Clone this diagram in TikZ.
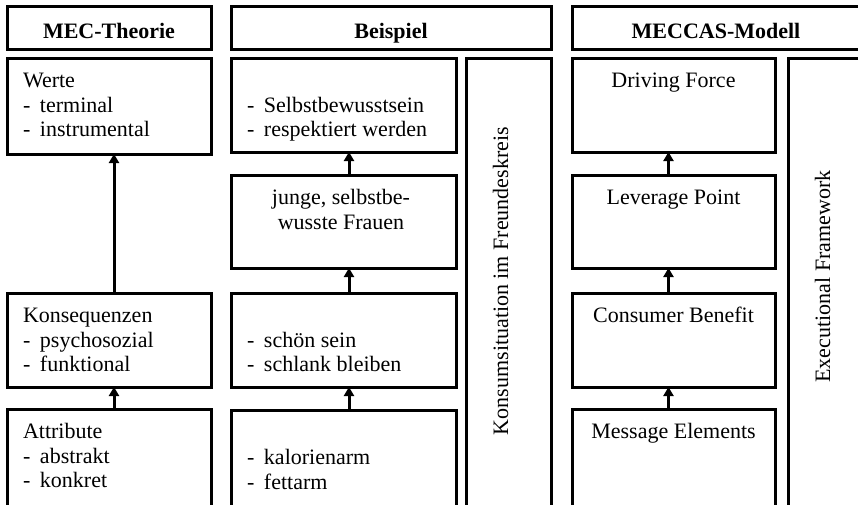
\documentclass[tikz,border=0pt]{standalone}
\usepackage{fontspec}
\setmainfont{Liberation Serif}
\usetikzlibrary{arrows.meta}
\newcommand\itm[1]{\makebox[17pt][l]{-}#1}
\begin{document}
\begin{tikzpicture}[x=1pt,y=-1pt,
  box/.style={draw=black, line width=3pt, rectangle, inner sep=0pt, outer sep=0pt, anchor=north west},
  txt/.style={inner sep=0pt, outer sep=0pt, font=\fontsize{22}{24.5}\selectfont},
  hdr/.style={txt, anchor=base, font=\fontsize{22}{24.5}\selectfont\bfseries},
  arr/.style={line width=3pt, -{Triangle[width=10pt,length=9pt]}}]
\useasboundingbox (0,0) rectangle (858,504);
\fill[white] (0,0) rectangle (858,504);
\clip (0,0) rectangle (858,504);
% headers
\node[box, minimum width=204pt, minimum height=43pt] (h1) at (7,6) {};
\node[box, minimum width=320pt, minimum height=43pt] (h2) at (231,6) {};
\node[box, minimum width=294pt, minimum height=43pt] (h3) at (572,6) {};
\node[hdr] (t1) at (109,38) {MEC-Theorie};
\node[hdr] (t2) at (391,38) {Beispiel};
\node[hdr] (t3) at (716,38) {MECCAS-Modell};
% MEC column
\node[box, minimum width=204pt, minimum height=96pt] (werte) at (7,58) {};
\node[box, minimum width=204pt, minimum height=94pt] (kons) at (7,293) {};
\node[box, minimum width=204pt, minimum height=111pt] (attr) at (7,409) {};
\node[txt, anchor=base west] (twerte) at (23,87.7) {\begin{tabular}[t]{@{}l@{}}Werte\\ \itm{terminal}\\ \itm{instrumental}\end{tabular}};
\node[txt, anchor=base west] (tkons) at (23,322.7) {\begin{tabular}[t]{@{}l@{}}Konsequenzen\\ \itm{psychosozial}\\ \itm{funktional}\end{tabular}};
\node[txt, anchor=base west] (tattr) at (23,438.7) {\begin{tabular}[t]{@{}l@{}}Attribute\\ \itm{abstrakt}\\ \itm{konkret}\end{tabular}};
\draw[arr] ([xshift=5pt]kons.north) -- ([xshift=5pt]werte.south);
\draw[arr] ([xshift=5pt]attr.north) -- ([xshift=5pt]kons.south);
% Beispiel column
\node[box, minimum width=225pt, minimum height=94pt] (b1) at (231,58) {};
\node[box, minimum width=225pt, minimum height=93pt] (b2) at (231,175) {};
\node[box, minimum width=225pt, minimum height=94pt] (b3) at (231,293) {};
\node[box, minimum width=225pt, minimum height=110pt] (b4) at (231,410) {};
\node[box, minimum width=85pt, minimum height=462pt] (konsum) at (466,58) {};
\node[txt, anchor=base west] (tb1) at (247,112.2) {\begin{tabular}[t]{@{}l@{}}\itm{Selbstbewusstsein}\\ \itm{respektiert werden}\end{tabular}};
\node[txt, anchor=base] (tb2) at (341,204.7) {\begin{tabular}[t]{@{}c@{}}junge, selbstbe-\\ wusste Frauen\end{tabular}};
\node[txt, anchor=base west] (tb3) at (247,347.2) {\begin{tabular}[t]{@{}l@{}}\itm{schön sein}\\ \itm{schlank bleiben}\end{tabular}};
\node[txt, anchor=base west] (tb4) at (247,464.7) {\begin{tabular}[t]{@{}l@{}}\itm{kalorienarm}\\ \itm{fettarm}\end{tabular}};
\node[txt, anchor=base, rotate=90] (tkonsum) at (508,281) {Konsumsituation im Freundeskreis};
\draw[arr] ([xshift=5.5pt]b2.north) -- ([xshift=5.5pt]b1.south);
\draw[arr] ([xshift=5.5pt]b3.north) -- ([xshift=5.5pt]b2.south);
\draw[arr] ([xshift=5.5pt]b4.north) -- ([xshift=5.5pt]b3.south);
% MECCAS column
\node[box, minimum width=203pt, minimum height=94pt] (m1) at (572,58) {};
\node[box, minimum width=203pt, minimum height=93pt] (m2) at (572,175) {};
\node[box, minimum width=203pt, minimum height=94pt] (m3) at (572,293) {};
\node[box, minimum width=203pt, minimum height=111pt] (m4) at (572,409) {};
\node[box, minimum width=78pt, minimum height=462pt] (exec) at (788,58) {};
\node[txt, anchor=base] (tm1) at (673.5,87.7) {Driving Force};
\node[txt, anchor=base] (tm2) at (673.5,204.7) {Leverage Point};
\node[txt, anchor=base] (tm3) at (673.5,322.7) {Consumer Benefit};
\node[txt, anchor=base] (tm4) at (673.5,438.7) {Message Elements};
\node[txt, anchor=base, rotate=90] (texec) at (830,276.5) {Executional Framework};
\draw[arr] ([xshift=-5pt]m2.north) -- ([xshift=-5pt]m1.south);
\draw[arr] ([xshift=-5pt]m3.north) -- ([xshift=-5pt]m2.south);
\draw[arr] ([xshift=-5pt]m4.north) -- ([xshift=-5pt]m3.south);
\end{tikzpicture}
\end{document}
